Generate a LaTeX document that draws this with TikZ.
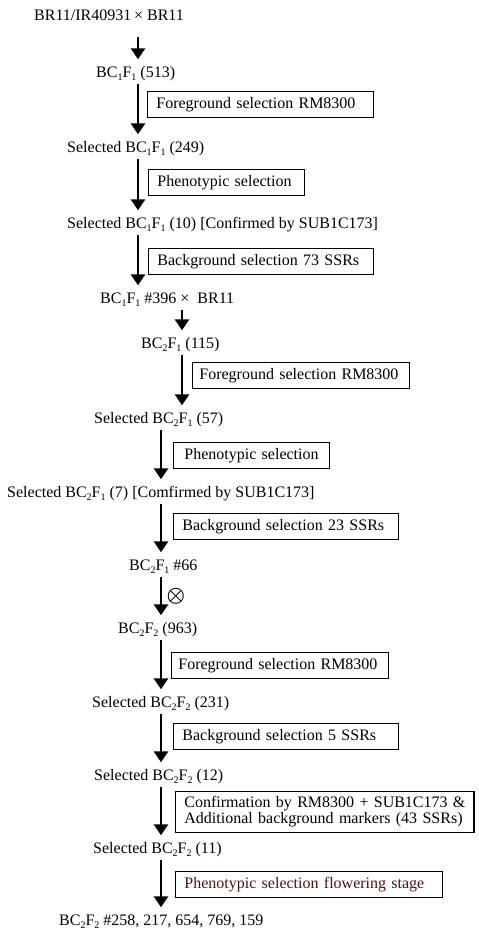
\documentclass[tikz,border=0pt]{standalone}
\usepackage{amsmath}
\usepackage{fontspec}
\setmainfont{Liberation Serif}
\usetikzlibrary{arrows.meta}
\newcommand\sbs[1]{\raisebox{-3pt}{\fontsize{10}{10}\selectfont #1}}
\definecolor{darkbrown}{HTML}{4A1414}
\begin{document}
\begin{tikzpicture}[x=1pt,y=-1pt,
  lbl/.style={inner sep=0pt, text height=11pt, text depth=4pt, anchor=base west, font=\fontsize{16}{18}\selectfont},
  selbox/.style={draw, line width=0.8pt, anchor=north west, inner xsep=9pt, inner ysep=0pt, align=left, font=\fontsize{16}{16}\selectfont},
  arr/.style={line width=2.8pt, -{Triangle[width=14pt,length=11pt]}, shorten <=2.5pt, shorten >=6.5pt}]
\useasboundingbox (0,0) rectangle (479,940);
\coordinate (c1) at (138,0);
\coordinate (c2) at (182,0);
\coordinate (c3) at (161,0);
% labels
\node[lbl] (L1) at (34,20) {BR11/IR40931\,× BR11};
\node[lbl] (L2) at (96,77) {BC\sbs{1}F\sbs{1} (513)};
\node[lbl] (L3) at (67,152) {Selected BC\sbs{1}F\sbs{1} (249)};
\node[lbl] (L4) at (67,228) {Selected BC\sbs{1}F\sbs{1} (10) [Confirmed by SUB1C173]};
\node[lbl] (L5) at (100,303) {BC\sbs{1}F\sbs{1} \#396 ×\ \ BR11};
\node[lbl] (L6) at (141,348) {BC\sbs{2}F\sbs{1} (115)};
\node[lbl] (L7) at (94,423) {Selected BC\sbs{2}F\sbs{1} (57)};
\node[lbl] (L8) at (7,497) {Selected BC\sbs{2}F\sbs{1} (7) [Comfirmed by SUB1C173]};
\node[lbl] (L9) at (129,570) {BC\sbs{2}F\sbs{1} \#66};
\node[lbl] (L10) at (118,633) {BC\sbs{2}F\sbs{2} (963)};
\node[lbl] (L11) at (92,707) {Selected BC\sbs{2}F\sbs{2} (231)};
\node[lbl] (L12) at (94,780) {Selected BC\sbs{2}F\sbs{2} (12)};
\node[lbl] (L13) at (93,853) {Selected BC\sbs{2}F\sbs{2} (11)};
\node[lbl] (L14) at (59,925) {BC\sbs{2}F\sbs{2} \#258, 217, 654, 769, 159};
\node[inner sep=0pt] (X) at (176,596) {\fontsize{22}{22}\selectfont$\boldsymbol{\otimes}$};
% boxes
\node[selbox, text width=208pt, minimum height=26pt] (B1) at (147,91) {\mbox{Foreground selection RM8300}};
\node[selbox, text width=138pt, minimum height=26pt] (B2) at (148,169) {\mbox{Phenotypic selection}};
\node[selbox, text width=207pt, minimum height=26pt] (B3) at (148,248) {\mbox{Background selection 73 SSRs}};
\node[selbox, text width=203pt, minimum height=26pt, inner xsep=7pt] (B4) at (192,362) {\mbox{Foreground selection RM8300}};
\node[selbox, text width=134pt, minimum height=26pt, inner xsep=11pt] (B5) at (173,442) {\mbox{Phenotypic selection}};
\node[selbox, text width=207pt, minimum height=26pt] (B6) at (173,513) {\mbox{Background selection 23 SSRs}};
\node[selbox, text width=203pt, minimum height=26pt, inner xsep=7pt] (B7) at (171,652) {\mbox{Foreground selection RM8300}};
\node[selbox, text width=207pt, minimum height=26pt] (B8) at (173,723) {\mbox{Background selection 5 SSRs}};
\node[selbox, text width=280pt, minimum height=41pt] (B9) at (175,791) {\mbox{Confirmation by RM8300 + SUB1C173 \&}\\\mbox{Additional background markers (43 SSRs)}};
\draw[line width=2.4pt] (B9.north east) -- (B9.south east);
\node[selbox, text width=249pt, minimum height=26pt, text=darkbrown] (B10) at (175,871) {\mbox{Phenotypic selection flowering stage}};
% arrows
\draw[arr, shorten <=13pt] (L1.south -| c1) -- (L2.north -| c1);
\draw[arr] (L2.south -| c1) -- (L3.north -| c1);
\draw[arr] (L3.south -| c1) -- (L4.north -| c1);
\draw[arr] (L4.south -| c1) -- (L5.north -| c1);
\draw[arr] (L5.south -| c2) -- (L6.north -| c2);
\draw[arr] (L6.south -| c2) -- (L7.north -| c2);
\draw[arr] (L7.south -| c3) -- (L8.north -| c3);
\draw[arr] (L8.south -| c3) -- (L9.north -| c3);
\draw[arr] (L9.south -| c3) -- (L10.north -| c3);
\draw[arr] (L10.south -| c3) -- (L11.north -| c3);
\draw[arr] (L11.south -| c3) -- (L12.north -| c3);
\draw[arr] (L12.south -| c3) -- (L13.north -| c3);
\draw[arr] (L13.south -| c3) -- (L14.north -| c3);
\end{tikzpicture}
\end{document}
